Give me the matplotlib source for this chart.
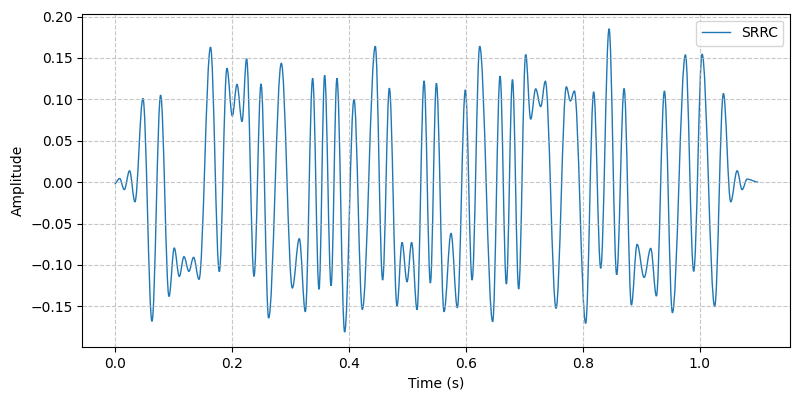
import matplotlib.pyplot as plt
from matplotlib.path import Path
from matplotlib.patches import PathPatch
from matplotlib.lines import Line2D
import numpy as np

# turning points of the SRRC waveform (time in s, amplitude)
tempo = [0.000, 0.0086, 0.0166, 0.0256, 0.0348, 0.0485, 0.0639, 0.0787, 0.093, 0.102,
         0.1106, 0.1186, 0.127, 0.135, 0.1443, 0.164, 0.179, 0.192, 0.2012, 0.2092,
         0.2178, 0.2256, 0.2383, 0.2503, 0.2633, 0.285, 0.3038, 0.3157, 0.326, 0.3385,
         0.3494, 0.359, 0.370, 0.380, 0.3932, 0.4092, 0.4234, 0.4456, 0.4581, 0.4696,
         0.4827, 0.4913, 0.4998, 0.5077, 0.5169, 0.5289, 0.5397, 0.550, 0.563, 0.575,
         0.5858, 0.5995, 0.611, 0.624, 0.6462, 0.6588, 0.6696, 0.680, 0.6906, 0.7026,
         0.7111, 0.7197, 0.7282, 0.7362, 0.7545, 0.7721, 0.779, 0.7858, 0.8051, 0.8188,
         0.8308, 0.8451, 0.8581, 0.8708, 0.8832, 0.893, 0.905, 0.9163, 0.926, 0.9397,
         0.9533, 0.9756, 0.9897, 1.0041, 1.0256, 1.0405, 1.053, 1.064, 1.0725, 1.081,
         1.100]
amplitude = [-0.002, 0.0044, -0.009, 0.0137, -0.0237, 0.101, -0.168, 0.105, -0.138, -0.0796,
             -0.1138, -0.090, -0.1077, -0.0908, -0.1174, 0.163, -0.108, 0.1375, 0.080, 0.118,
             0.0732, 0.149, -0.1138, 0.1186, -0.164, 0.1435, -0.1278, -0.0683, -0.1564, 0.1254,
             -0.1294, 0.129, -0.125, 0.1254, -0.1810, 0.100, -0.1536, 0.164, -0.1182, 0.1134,
             -0.1495, -0.0728, -0.1202, -0.0728, -0.154, 0.1222, -0.1218, 0.1194, -0.1564, -0.0619,
             -0.1516, 0.1114, -0.1182, 0.164, -0.1684, 0.128, -0.123, 0.1238, -0.129, 0.154,
             0.076, 0.1126, 0.0913, 0.1218, -0.1524, 0.115, 0.098, 0.110, -0.1705, 0.109,
             -0.104, 0.1852, -0.1118, 0.113, -0.1483, -0.0752, -0.115, -0.080, -0.1375, 0.110,
             -0.1576, 0.1536, -0.1077, 0.1544, -0.150, 0.107, -0.0237, 0.0137, -0.009, 0.0036,
             0.0]

cor = '#1f77b4'

fig, ax = plt.subplots(figsize=(8, 4), dpi=100)

# smooth curve through turning points (flat tangent at each one)
k = 0.36
verts = [(tempo[0], amplitude[0])]
codes = [Path.MOVETO]
for i in range(1, len(tempo)):
    x0, y0 = tempo[i - 1], amplitude[i - 1]
    x1, y1 = tempo[i], amplitude[i]
    dx = x1 - x0
    verts += [(x0 + k * dx, y0), (x1 - k * dx, y1), (x1, y1)]
    codes += [Path.CURVE4] * 3
ax.add_patch(PathPatch(Path(verts, codes), facecolor='none', edgecolor=cor, lw=1.0))

ax.update_datalim(np.column_stack([tempo, amplitude]))
ax.autoscale_view()

ax.set_xlabel('Time (s)')
ax.set_ylabel('Amplitude')
ax.grid(True, linestyle='--', alpha=0.7)
ax.legend(handles=[Line2D([], [], color=cor, lw=1.0, label='SRRC')], loc='upper right')

fig.subplots_adjust(left=0.103, right=0.988, top=0.966, bottom=0.132)
plt.savefig('out.png')
